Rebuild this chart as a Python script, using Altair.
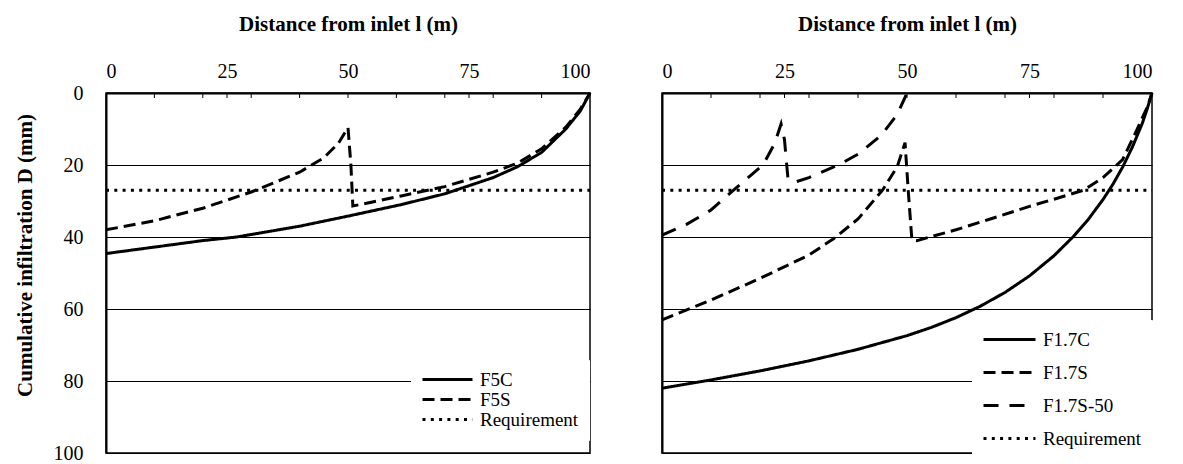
import altair as alt
import pandas as pd

# ---------------- data ----------------
# Left panel (F5)
f5c_l = [0, 10, 20, 27, 40, 50, 61, 70, 80, 85, 90, 95, 98, 100]
f5c_d = [44.6, 42.8, 41, 40, 37, 34.2, 31, 28, 23.5, 20.5, 16.5, 10, 5, 0]
f5s_l = [0, 10, 20, 30, 40, 45, 48, 50, 50.6, 51, 61, 70, 80, 85, 90, 95, 98, 100]
f5s_d = [38, 35.5, 32, 27.5, 22, 18, 14, 9.6, 20, 31.4, 28.6, 26, 22, 19.5, 15.5, 9.5, 4.5, 0]

# Right panel (F1.7)
f17c_l = [0, 10, 20, 30, 40, 50, 55, 60, 65, 70, 75, 80, 84, 87, 90, 92, 94, 96, 98, 99, 100]
f17c_d = [82, 79.7, 77.2, 74.4, 71.2, 67.4, 65.1, 62.4, 59.2, 55.4, 50.8, 45.2, 39.8, 35.1, 29.6, 25.4, 20.6, 15, 8.5, 4.5, 0]
f17s_l = [0, 10, 20, 30, 35, 40, 45, 48, 49.6, 50.3, 51, 52, 60, 67, 75, 80, 86, 90, 94, 97, 99, 100]
f17s_d = [63, 57.5, 51.5, 45, 40.5, 35, 27, 20.5, 13.8, 28, 40.8, 41, 38, 35, 31.5, 29.5, 27, 23.5, 18.5, 10, 4, 0]
f17s50_l = [0, 5, 10, 14.6, 18, 20.6, 23, 24.3, 25, 25.7, 27, 30, 36, 40, 44.7, 48, 50]
f17s50_d = [39.5, 36.5, 32.5, 27, 23, 20, 14, 8.6, 13, 23.7, 24.8, 23.5, 20, 17, 11.8, 6, 0]

requirement_l = [0, 100]
requirement_d = [27, 27]

left_names = ["F5C", "F5S", "Requirement"]
right_names = ["F1.7C", "F1.7S", "F1.7S-50", "Requirement"]

x_label_values = [0, 25, 50, 75, 100]
x_tick_values = [10, 20, 25, 30, 40, 50, 60, 70, 75, 80, 90]
y_values = [0, 20, 40, 60, 80, 100]

SOLID = [1, 0]
DASH = [12, 6]
LONGDASH = [15, 11]
DOT = [3, 5.3]


def frame(items):
    rows = []
    for name, ls, ds in items:
        for i, (l, d) in enumerate(zip(ls, ds)):
            rows.append({"series": name, "l": l, "D": d, "i": i})
    return pd.DataFrame(rows)


left_df = frame([("F5C", f5c_l, f5c_d), ("F5S", f5s_l, f5s_d),
                 ("Requirement", requirement_l, requirement_d)])
right_df = frame([("F1.7C", f17c_l, f17c_d), ("F1.7S", f17s_l, f17s_d),
                  ("F1.7S-50", f17s50_l, f17s50_d),
                  ("Requirement", requirement_l, requirement_d)])

FONT = "Liberation Serif"
FS = 20
TFS = 21


def panel(df, names, dashes, width, show_y, leg_x, leg_y, row_pad, sym_size):
    x = alt.X("l:Q",
              scale=alt.Scale(domain=[0, 100], nice=False, zero=False),
              axis=alt.Axis(orient="top", values=x_label_values, ticks=False,
                            grid=False, labelPadding=12, titlePadding=27,
                            domainWidth=2, domainColor="black",
                            labelFont=FONT, labelFontSize=FS, labelColor="black",
                            titleFont=FONT, titleFontSize=TFS, titleFontWeight="bold",
                            titleColor="black",
                            title="Distance from inlet l (m)"))
    if show_y:
        y_axis = alt.Axis(values=y_values, ticks=False, grid=True,
                          gridColor="black", gridWidth=1, gridOpacity=1,
                          domainWidth=2, domainColor="black",
                          labelPadding=23, titlePadding=18, titleY=162,
                          labelFont=FONT, labelFontSize=FS, labelColor="black",
                          titleFont=FONT, titleFontSize=TFS, titleFontWeight="bold",
                          titleColor="black",
                          title="Cumulative infiltration D (mm)")
    else:
        y_axis = alt.Axis(values=y_values, ticks=False, grid=True,
                          gridColor="black", gridWidth=1, gridOpacity=1,
                          domainWidth=2, domainColor="black",
                          labels=False, title=None)
    y = alt.Y("D:Q", scale=alt.Scale(domain=[0, 100], reverse=True, nice=False),
              axis=y_axis)
    lines = alt.Chart(df).mark_line(color="black", strokeWidth=3).encode(
        x=x, y=y,
        strokeDash=alt.StrokeDash(
            "series:N",
            scale=alt.Scale(domain=names, range=dashes),
            legend=alt.Legend(title=None, orient="none", legendX=leg_x,
                              legendY=leg_y, rowPadding=row_pad,
                              symbolSize=sym_size)),
        order=alt.Order("i:Q"),
    )
    ticks = alt.Chart(pd.DataFrame({"l": x_tick_values})).mark_rule(
        color="black", strokeWidth=1).encode(
        x=alt.X("l:Q"), y=alt.value(0), y2=alt.value(5))
    return alt.layer(lines, ticks).properties(width=width, height=360)


left = panel(left_df, left_names, [SOLID, DASH, DOT], 484, True,
             305, 267, 0, 2500)
right = panel(right_df, right_names, [SOLID, DASH, LONGDASH, DOT], 490, False,
              310, 227, 13, 2704)

chart = alt.hconcat(left, right, spacing=58).resolve_scale(
    strokeDash="independent").resolve_legend(strokeDash="independent").properties(
    padding={"left": 5, "right": 0, "top": 4, "bottom": 0}
).configure(
    font=FONT
).configure_axis(
    labelFont=FONT, labelFontSize=FS, labelColor="black",
    titleFont=FONT, titleFontSize=TFS, titleFontWeight="bold", titleColor="black",
).configure_view(
    stroke="black", strokeWidth=1.5
).configure_legend(
    labelFont=FONT, labelFontSize=19, labelColor="black",
    symbolType="stroke", symbolStrokeWidth=3,
    symbolStrokeColor="black", clipHeight=19, labelOffset=6,
    fillColor="white", padding=10, strokeColor="white",
)

chart.save("out.html", embed_options={"renderer": "svg", "actions": False})
